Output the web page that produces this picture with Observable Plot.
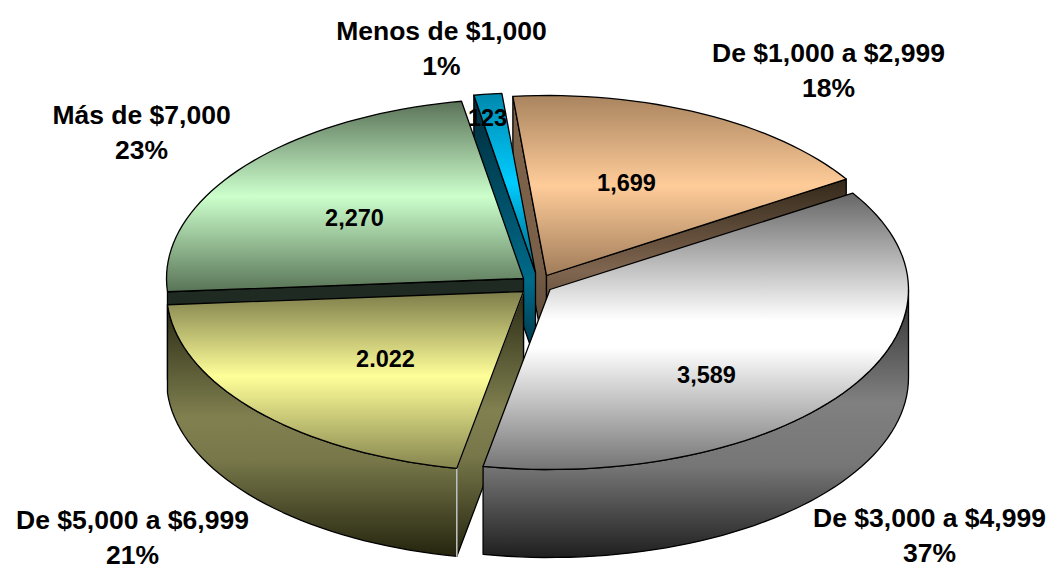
<!DOCTYPE html>
<html><head><meta charset="utf-8">
<script src="https://cdn.jsdelivr.net/npm/d3@7"></script>
<script src="https://cdn.jsdelivr.net/npm/@observablehq/plot@0.6"></script>
<style>html,body{margin:0;padding:0;background:#fff}svg{display:block}</style>
</head><body><div id="chart"></div>
<script>
// Data
const categories = ["Menos de $1,000","De $1,000 a $2,999","De $3,000 a $4,999","De $5,000 a $6,999","Más de $7,000"];
const values = [123,1699,3589,2022,2270];
const valueLabels = ["123","1,699","3,589","2.022","2,270"];
const percentLabels = ["1%","18%","37%","21%","23%"];

// 3D pie layout (chart pixel space)
const startAngle = -10, ry = 180, depth = 88;
const radiusX = [355,355,358.5,357,357];
const apexX = [535,546,549.5,523,523];
const apexY = [272,275,289,291,278];
const valueX = [487,626,706,385,354];
const valueY = [118,183,375,359,218];
const catX = [441,828,929,132,141];
const catY = [46,68,532.5,535,130];

// Gradient stops: [offset, colour] lists
const topStops = [
  [[0,"#0088ad"],[.5,"#00ccff"],[1,"#00607c"]],
  [[0,"#a9845f"],[.5,"#ffcc99"],[1,"#a07c5a"]],
  [[0,"#666666"],[.46,"#ffffff"],[.56,"#ffffff"],[1,"#747474"]],
  [[0,"#7c7c4a"],[.48,"#ffff99"],[1,"#85854f"]],
  [[0,"#5a7258"],[.5,"#ccffcc"],[1,"#587456"]]
];
const sideStops = [
  [[0,"#002a38"],[.7,"#006b8a"],[1,"#002f3f"]],
  [[0,"#33281a"],[.5,"#806650"],[1,"#33281a"]],
  [[0,"#2e2e2e"],[.42,"#808080"],[.66,"#767676"],[1,"#1f1f1f"]],
  [[0,"#2a2a14"],[.45,"#808050"],[.62,"#77774a"],[1,"#24240e"]],
  [[0,"#1f2a22"],[.68,"#1f2a22"],[.76,"#40564a"],[1,"#40564a"]]
];
const peachEdgeStops = [[0,"#7d6349"],[.6,"#7a6048"],[1,"#4f3f2e"]];

const total = d3.sum(values);
const rad = d => d * Math.PI / 180;
let acc = startAngle;
const spans = values.map(v => { const a0 = acc; acc += v / total * 360; return [a0, acc]; });

const pt = (i, a, dz = 0) => ({x: apexX[i] + radiusX[i] * Math.sin(rad(a)), y: apexY[i] - ry * Math.cos(rad(a)) + dz});
const apex = (i, dz = 0) => ({x: apexX[i], y: apexY[i] + dz});
const arc = (a0, a1, i, dz = 0) => {
  const n = Math.max(2, Math.ceil(Math.abs(a1 - a0) / 2));
  return d3.range(n + 1).map(k => pt(i, a0 + (a1 - a0) * k / n, dz));
};
const topFace = i => [apex(i), ...arc(spans[i][0], spans[i][1], i)];
const edgeWall = (i, a) => [apex(i), pt(i, a), pt(i, a, depth), apex(i, depth)];
const outerWall = (i, a0, a1) => [...arc(a0, a1, i), ...arc(a1, a0, i, depth)];

function defs() {
  const d = d3.create("svg:defs");
  const add = (id, stops) => {
    const g = d.append("linearGradient").attr("id", id).attr("x1", 0).attr("x2", 0).attr("y1", 0).attr("y2", 1);
    stops.forEach(([o, c]) => g.append("stop").attr("offset", o).attr("stop-color", c));
  };
  topStops.forEach((s, i) => add("top" + i, s));
  sideStops.forEach((s, i) => add("side" + i, s));
  add("peachEdge", peachEdgeStops);
  return d.node();
}

const poly = (pts, fill, extra = {}) => Plot.line(pts, {x:"x", y:"y", curve:"linear-closed", fill, stroke:"#000", strokeWidth:1.3, ...extra});
const white = (pts) => Plot.line(pts, {x:"x", y:"y", stroke:"#fff", strokeWidth:1.2});

const bold = {fontFamily:"'Liberation Sans', Arial, sans-serif", fontWeight:700, fill:"#000", stroke:"none"};
const catRows = categories.map((c, i) => ({text: c + "\n" + percentLabels[i], x: catX[i], y: catY[i]}));
const valRows = valueLabels.map((t, i) => ({text: t, x: valueX[i], y: valueY[i]}));

const chart = Plot.plot({
  width: 1057, height: 572, margin: 0,
  x: {type:"linear", domain:[0,1057], range:[0,1057], axis:null},
  y: {type:"linear", domain:[0,572], range:[0,572], axis:null},
  marks: [
    defs,
    poly(edgeWall(1, spans[1][0]), "url(#peachEdge)"),
    poly(edgeWall(1, spans[1][1]), "url(#side1)"),
    poly(edgeWall(0, spans[0][0]), "url(#side0)"),
    poly(topFace(0), "url(#top0)"),
    poly(edgeWall(4, spans[4][0]), "url(#side4)"),
    poly(topFace(4), "url(#top4)"),
    poly(outerWall(3, spans[3][0], spans[3][1]), "url(#side3)"),
    poly(edgeWall(3, spans[3][0]), "url(#side3)"),
    white([pt(3, spans[3][0]), pt(3, spans[3][0], depth)]),
    white([apex(3), pt(3, spans[3][0])]),
    poly(topFace(3), "url(#top3)"),
    poly(outerWall(2, 90, spans[2][1]), "url(#side2)"),
    poly(topFace(2), "url(#top2)"),
    poly(topFace(1), "url(#top1)"),
    Plot.text(valRows, {x:"x", y:"y", text:"text", fontSize:23.5, ...bold}),
    Plot.text(catRows, {x:"x", y:"y", text:"text", fontSize:26.5, lineHeight:1.32, lineAnchor:"middle", ...bold})
  ]
});
document.getElementById("chart").appendChild(chart);
</script>
</body></html>
